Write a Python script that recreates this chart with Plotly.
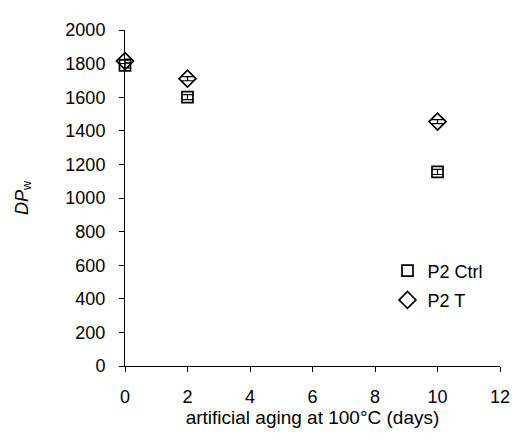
import plotly.graph_objects as go

days = [0, 2, 10]
ctrl_dp = [1790, 1600, 1155]
ctrl_err = [15, 15, 15]
t_dp = [1815, 1710, 1455]
t_err = [12, 12, 12]

x_ticks = [0, 2, 4, 6, 8, 10, 12]
y_ticks = [0, 200, 400, 600, 800, 1000, 1200, 1400, 1600, 1800, 2000]

FONT = "Liberation Sans, Arial, sans-serif"

fig = go.Figure()
fig.add_trace(go.Scatter(
    x=days, y=ctrl_dp, mode="markers", name="P2 Ctrl", legendgroup="a",
    marker=dict(symbol="square-open", size=11, color="black", line=dict(width=1.7, color="black")),
    error_y=dict(type="data", array=ctrl_err, color="black", thickness=1.2, width=6),
    cliponaxis=False,
))
fig.add_trace(go.Scatter(
    x=days, y=t_dp, mode="markers", name="P2 T", legendgroup="b",
    marker=dict(symbol="diamond-open", size=13, color="black", line=dict(width=1.7, color="black")),
    error_y=dict(type="data", array=t_err, color="black", thickness=1.2, width=6),
    cliponaxis=False,
))

# page body has an 8px margin; compensate so the plot area lands where the reference has it
fig.update_layout(
    width=514, height=432,
    margin=dict(l=117, r=13, t=14, b=74),
    paper_bgcolor="white", plot_bgcolor="white",
    font=dict(family=FONT, size=18, color="black"),
    showlegend=True,
    legend=dict(x=0.70, y=0.24, xanchor="left", yanchor="middle",
                bgcolor="rgba(0,0,0,0)", itemwidth=30, tracegroupgap=3,
                font=dict(size=18, family=FONT)),
    xaxis=dict(
        range=[0, 12], tickvals=x_ticks, ticktext=[str(v) for v in x_ticks],
        showgrid=False, zeroline=False, showline=True, linecolor="black", linewidth=1,
        ticks="outside", ticklen=5, tickcolor="black", tickwidth=1,
        ticklabelstandoff=9,
        title=dict(text="artificial aging at 100°C (days)", standoff=3, font=dict(size=19)),
    ),
    yaxis=dict(
        range=[0, 2000], tickvals=y_ticks, ticktext=[str(v) for v in y_ticks],
        showgrid=False, zeroline=False, showline=True, linecolor="black", linewidth=1,
        ticks="outside", ticklen=5, tickcolor="black", tickwidth=1,
        ticklabelstandoff=10,
        title=dict(text="<i>DP</i><sub>w</sub>", standoff=32, font=dict(size=18)),
    ),
)

fig.write_html("out.html")
